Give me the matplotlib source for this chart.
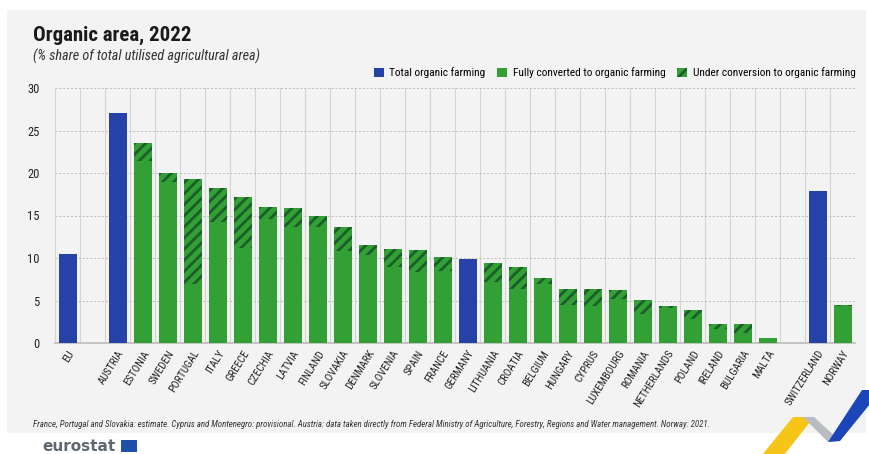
import matplotlib.pyplot as plt
from matplotlib.patches import Patch, Rectangle, Polygon
import numpy as np

# categories ("" = empty slot between groups)
labels = ["EU", "", "AUSTRIA", "ESTONIA", "SWEDEN", "PORTUGAL", "ITALY", "GREECE",
          "CZECHIA", "LATVIA", "FINLAND", "SLOVAKIA", "DENMARK", "SLOVENIA", "SPAIN",
          "FRANCE", "GERMANY", "LITHUANIA", "CROATIA", "BELGIUM", "HUNGARY", "CYPRUS",
          "LUXEMBOURG", "ROMANIA", "NETHERLANDS", "POLAND", "IRELAND", "BULGARIA",
          "MALTA", "", "SWITZERLAND", "NORWAY"]

# total organic farming (only where no split is available)
total = [10.5, 0, 27.1, 0, 0, 0, 0, 0, 0, 0, 0, 0, 0, 0, 0, 0, 9.9, 0, 0, 0, 0, 0,
         0, 0, 0, 0, 0, 0, 0, 0, 17.9, 0]
# fully converted to organic farming
fully = [0, 0, 0, 21.4, 18.9, 6.9, 14.2, 11.2, 14.6, 13.7, 13.6, 10.8, 10.4, 8.9, 8.3,
         8.5, 0, 7.2, 6.4, 7.0, 4.5, 4.4, 5.2, 3.4, 4.1, 2.8, 1.6, 1.2, 0.6, 0, 0, 4.3]
# under conversion to organic farming
under = [0, 0, 0, 2.1, 1.1, 12.4, 4.0, 6.0, 1.4, 2.2, 1.4, 2.9, 1.1, 2.2, 2.6, 1.6,
         0, 2.2, 2.5, 0.6, 1.8, 1.9, 1.0, 1.7, 0.3, 1.1, 0.6, 1.0, 0, 0, 0, 0.2]

BLUE = "#2642a7"
GREEN = "#33a035"
DARK = "#1a5e2a"
PANEL = "#f3f3f3"
GRID = "#d4d4d4"
NARROW = ["Liberation Sans Narrow", "Roboto Condensed", "DejaVu Sans"]

plt.rcParams["font.family"] = NARROW
plt.rcParams["hatch.linewidth"] = 2.0

W, H = 869, 454
dpi = 100
fig = plt.figure(figsize=(W / dpi, H / dpi), dpi=dpi, facecolor="white")

def fx(px):
    return px / W

def fy(py):
    return 1 - py / H

# light grey panel behind the chart
fig.patches.append(Rectangle((fx(7), fy(433)), fx(859), 423 / H, transform=fig.transFigure,
                             facecolor=PANEL, edgecolor="none", zorder=-10))

ax = fig.add_axes([fx(55), fy(343), fx(800), (343 - 88) / H])
ax.set_facecolor(PANEL)

x = np.arange(len(labels))
w = 0.72
ax.bar(x, total, w, color=BLUE, zorder=3)
ax.bar(x, fully, w, color=GREEN, zorder=3)
ax.bar(x, under, w, bottom=fully, facecolor=GREEN, edgecolor=DARK, hatch="///",
       linewidth=0, zorder=3)

ax.set_xlim(-0.5, len(labels) - 0.5)
ax.set_ylim(0, 30)
ax.set_yticks(range(0, 31, 5))
ax.set_xticks(x)
ax.set_xticklabels(labels, rotation=58, ha="right", rotation_mode="anchor", fontsize=7.8,
                   color="#222222")
ax.tick_params(axis="both", length=0)
ax.tick_params(axis="y", labelsize=9, pad=11, colors="#222222")
ax.tick_params(axis="x", pad=4)

ax.set_xticks(np.arange(-0.5, len(labels), 1), minor=True)
ax.tick_params(axis="x", which="minor", length=0)
ax.grid(axis="x", which="minor", color=GRID, linewidth=0.8, zorder=0)
ax.grid(axis="y", which="major", color="#bdbdbd", linestyle=(0, (2, 2)), linewidth=0.7,
        zorder=0)
for s in ["top", "right", "left"]:
    ax.spines[s].set_visible(False)
ax.spines["bottom"].set_color("#bbbbbb")
ax.spines["bottom"].set_linewidth(1.2)

fig.text(fx(33), fy(41), "Organic area, 2022", fontsize=15, fontweight="bold",
         color="#1a1a1a", va="baseline")
fig.text(fx(33), fy(61), "(% share of total utilised agricultural area)", fontsize=10.2,
         style="italic", color="#333333", va="baseline")

handles = [Patch(facecolor=BLUE, edgecolor="none"),
           Patch(facecolor=GREEN, edgecolor="none"),
           Patch(facecolor=GREEN, edgecolor=DARK, hatch="///", linewidth=0)]
leg = fig.legend(handles, ["Total organic farming", "Fully converted to organic farming",
                           "Under conversion to organic farming"],
                 loc="center right", bbox_to_anchor=(fx(856), fy(73)), ncol=3,
                 frameon=False, fontsize=8.2, handlelength=0.9, handleheight=0.9,
                 handletextpad=0.5, columnspacing=1.0, borderaxespad=0, borderpad=0)

fig.text(fx(33), fy(427),
         "France, Portugal and Slovakia: estimate. Cyprus and Montenegro: provisional. "
         "Austria: data taken directly from Federal Ministry of Agriculture, Forestry, "
         "Regions and Water management. Norway: 2021.",
         fontsize=6.4, style="italic", color="#333333", va="baseline")

# eurostat logo
fig.text(fx(42), fy(451), "eurostat", fontsize=11, fontweight="bold", color="#5f6870",
         va="baseline", family=["DejaVu Sans"])
fig.patches.append(Rectangle((fx(121), fy(452)), fx(16), 12 / H, transform=fig.transFigure,
                             facecolor="#1f4fa8", edgecolor="none"))

# decorative ribbon
def poly(pts, color):
    fig.patches.append(Polygon([(fx(a), fy(b)) for a, b in pts], closed=True,
                               transform=fig.transFigure, facecolor=color,
                               edgecolor="none", zorder=5))

poly([(762, 455), (784, 455), (814, 417), (793, 417)], "#f5c518")
poly([(803, 417), (814, 417), (840, 441), (828, 442)], "#b9bcc2")
poly([(828, 442), (840, 441), (870, 404), (870, 390), (862, 390)], "#1c46b8")

fig.savefig("out.png", dpi=dpi, facecolor="white")
